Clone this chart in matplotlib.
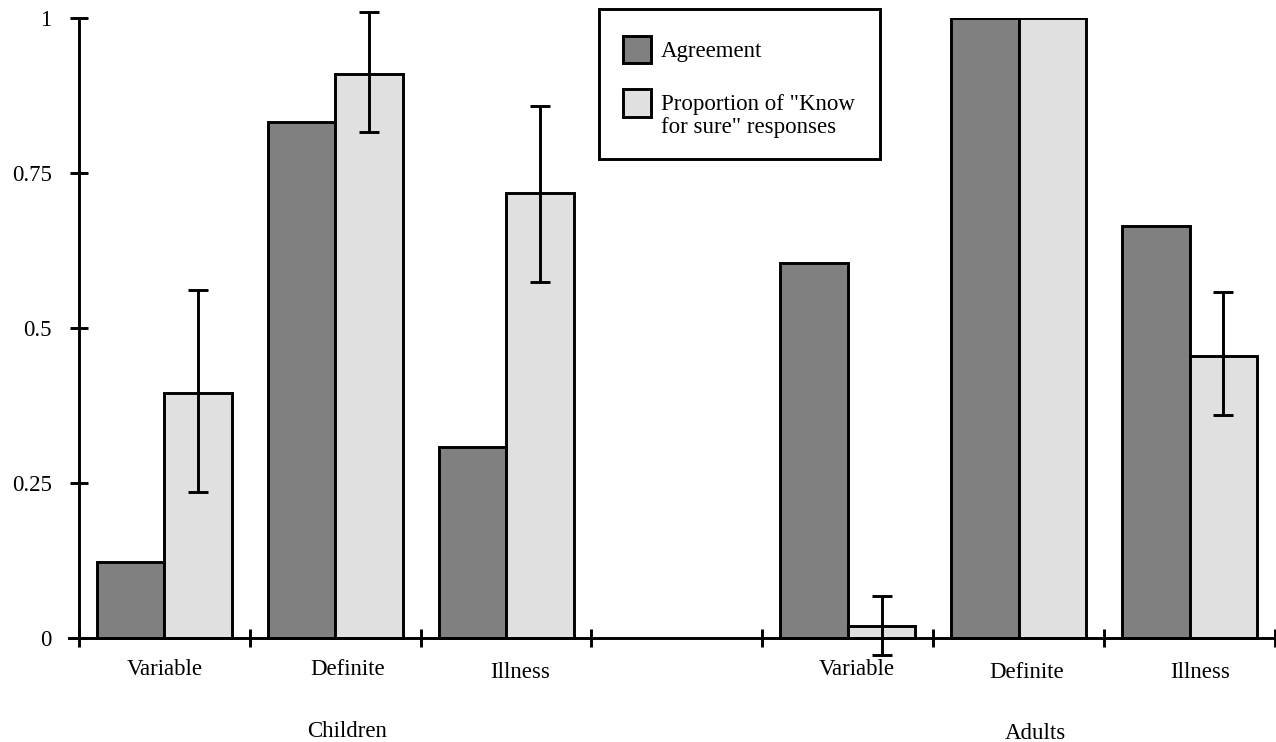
import matplotlib
matplotlib.use("Agg")
import matplotlib.pyplot as plt
from matplotlib.patches import Rectangle
from matplotlib.transforms import Affine2D

# ---------------- data ----------------
categories = ["Variable", "Definite", "Illness"]
groups = ["Children", "Adults"]
agreement = [0.122, 0.832, 0.308, 0.604, 1.0, 0.664]
know_for_sure = [0.395, 0.909, 0.717, 0.019, 1.0, 0.454]
kfs_err_low = [0.235, 0.815, 0.574, -0.028, None, 0.359]
kfs_err_high = [0.561, 1.009, 0.858, 0.067, None, 0.558]
yticks = [0, 0.25, 0.5, 0.75, 1]
ytick_labels = ["0", "0.25", "0.5", "0.75", "1"]
legend_labels = ["Agreement", "Proportion of \"Know", "for sure\" responses"]

# ---------------- layout / style ----------------
W, H, DPI = 1276, 742, 100
plt.rcParams["font.family"] = ["Liberation Serif", "DejaVu Serif"]
FS = 16.5
DARK, LIGHT = "#808080", "#e0e0e0"
LW = 2.1

fig = plt.figure(figsize=(W / DPI, H / DPI), dpi=DPI)
pix = Affine2D().scale(1, -1).translate(0, H)  # pixel coords, origin top-left

x0_px, unit_x = 78.8, 170.9
y0_px, unit_y = 637.7, 620.0
xlim = (-0.057, 7.005)
ylim = (-0.1, 1.0)
left = x0_px + xlim[0] * unit_x
right = x0_px + xlim[1] * unit_x
top = y0_px - ylim[1] * unit_y
bottom = y0_px - ylim[0] * unit_y
ax = fig.add_axes([left / W, (H - bottom) / H, (right - left) / W, (bottom - top) / H])
ax.set_xlim(*xlim)
ax.set_ylim(*ylim)
ax.patch.set_alpha(0)

slots = [0, 1, 2, 4, 5, 6]
centers = [s + 0.5 for s in slots]
bw = 0.395

ax.bar([c - bw / 2 for c in centers], agreement, width=bw, color=DARK,
       edgecolor="black", linewidth=LW, zorder=2)
ax.bar([c + bw / 2 for c in centers], know_for_sure, width=bw, color=LIGHT,
       edgecolor="black", linewidth=LW, zorder=2)

for c, v, lo, hi in zip(centers, know_for_sure, kfs_err_low, kfs_err_high):
    if lo is None:
        continue
    ax.errorbar([c + bw / 2], [v], yerr=[[v - lo], [hi - v]], fmt="none",
                ecolor="black", elinewidth=LW, capsize=7.5, capthick=LW,
                zorder=4, clip_on=False)

for side in ["top", "right"]:
    ax.spines[side].set_visible(False)
ax.spines["left"].set_position(("data", 0))
ax.spines["left"].set_bounds(0, 1)
ax.spines["bottom"].set_position(("data", 0))
for side in ["left", "bottom"]:
    ax.spines[side].set_linewidth(LW)
    ax.spines[side].set_zorder(3)

ax.set_xticks(range(8))
ax.set_xticklabels([])
ax.set_yticks(yticks)
ax.set_yticklabels(ytick_labels, fontsize=FS)
ax.tick_params(axis="both", direction="inout", length=13, width=LW)
ax.tick_params(axis="y", pad=13)

# category labels (baseline positions)
label_dx = [0.001, 0.072, 0.082, 0.052, 0.047, 0.059]
label_base = [675, 675, 678, 675, 678, 678]
names = categories + categories
for c, dx, yb, name in zip(centers, label_dx, label_base, names):
    ax.text(c + dx, (y0_px - yb) / unit_y, name, ha="center", va="baseline",
            fontsize=FS, clip_on=False)

group_x = [1.568, 5.595]
group_base = [737, 739]
for gx, yb, g in zip(group_x, group_base, groups):
    ax.text(gx, (y0_px - yb) / unit_y, g, ha="center", va="baseline",
            fontsize=FS, clip_on=False)

# legend (manual)
fig.patches.append(Rectangle((599, 9), 281, 150, transform=pix, fill=False,
                             edgecolor="black", linewidth=LW))
fig.patches.append(Rectangle((623, 36), 28, 27, transform=pix, facecolor=DARK,
                             edgecolor="black", linewidth=LW))
fig.patches.append(Rectangle((623, 89), 28, 28, transform=pix, facecolor=LIGHT,
                             edgecolor="black", linewidth=LW))
for txt, yb in zip(legend_labels, [57, 110, 133]):
    fig.text(661, yb, txt, transform=pix, fontsize=FS, ha="left", va="baseline")

fig.savefig("out.png", dpi=DPI)
